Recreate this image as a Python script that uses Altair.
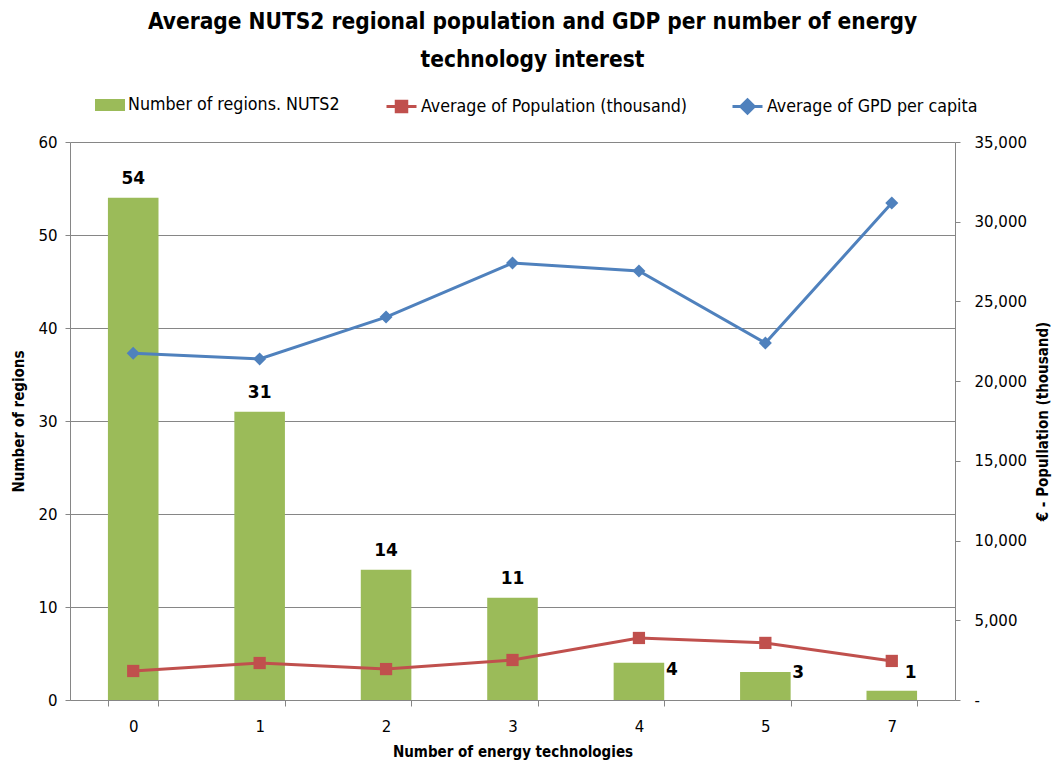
import altair as alt
import pandas as pd

categories = ["0", "1", "2", "3", "4", "5", "7"]
regions = [54, 31, 14, 11, 4, 3, 1]
population = [1820, 2320, 1940, 2510, 3890, 3580, 2450]
gdp = [21750, 21390, 24020, 27410, 26910, 22390, 31170]

series_names = ["Number of regions. NUTS2", "Average of Population (thousand)", "Average of GPD per capita"]
series_colors = ["#9BBB59", "#C0504D", "#4F81BD"]

left_ticks = [0, 10, 20, 30, 40, 50, 60]
right_ticks = [0, 5000, 10000, 15000, 20000, 25000, 30000, 35000]

title_lines = ["Average NUTS2 regional population and GDP per number of energy", "technology interest"]

FONT = "Liberation Sans Narrow, DejaVu Sans Condensed, sans-serif"
TFONT = "DejaVu Sans, sans-serif"
GRAY = "#868686"

bars_df = pd.DataFrame({"cat": categories, "regions": regions, "series": series_names[0]})
pop_df = pd.DataFrame({"cat": categories, "value": population, "series": series_names[1]})
gdp_df = pd.DataFrame({"cat": categories, "value": gdp, "series": series_names[2]})

x_enc = alt.X(
    "cat:O", sort=categories,
    scale=alt.Scale(paddingInner=0.6, paddingOuter=0.3),
    axis=alt.Axis(labelAngle=0, tickBand="extent", title="Number of energy technologies",
                  domainColor=GRAY, tickColor=GRAY, tickSize=6, labelFontSize=15, labelFont=TFONT,
                  labelColor="black", labelPadding=13, titleFontSize=15, titleFont=FONT,
                  titleFontWeight="bold", titlePadding=10, titleColor="black"),
)

y_left = alt.Y(
    "regions:Q", scale=alt.Scale(domain=[0, 60]),
    axis=alt.Axis(values=left_ticks, grid=True, gridColor=GRAY, domainColor=GRAY, tickColor=GRAY,
                  tickSize=5, labelFontSize=15, labelFont=TFONT, labelColor="black", labelPadding=8,
                  title="Number of regions", titleFont=FONT, titleFontSize=15, titleFontWeight="bold",
                  titleColor="black", titlePadding=11),
)

y_right = alt.Y(
    "value:Q", scale=alt.Scale(domain=[0, 35000]),
    axis=alt.Axis(orient="right", values=right_ticks, grid=False, domainColor=GRAY, tickColor=GRAY,
                  tickSize=5, labelFontSize=15, labelFont=TFONT, labelColor="black", labelPadding=14,
                  labelExpr="datum.value == 0 ? '-' : format(datum.value, ',')",
                  title="€ - Popullation (thousand)", titleAngle=270, titleFont=FONT, titleFontSize=15,
                  titleFontWeight="bold", titleColor="black", titlePadding=24),
)

RECT_PATH = "M-1,-0.4H1V0.4H-1Z"
SQUARE_LINE_PATH = "M-1,0H1M-0.35,-0.35H0.35V0.35H-0.35Z"
DIAMOND_LINE_PATH = "M-1,0H1M0,-0.45L0.45,0L0,0.45L-0.45,0Z"

def make_legend(x, path, color, stroke_w):
    return alt.Legend(
        orient="none", legendX=x, legendY=-52, direction="horizontal", title=None,
        symbolType=path, symbolSize=900, symbolStrokeWidth=stroke_w,
        symbolFillColor=color, symbolStrokeColor=color, symbolOpacity=1,
        labelFontSize=17.7, labelFont=FONT, labelColor="black", labelOffset=3, labelLimit=400,
    )

bars = alt.Chart(bars_df).mark_bar().encode(
    x=x_enc, y=y_left,
    color=alt.Color("series:N", scale=alt.Scale(domain=[series_names[0]], range=[series_colors[0]]),
                    legend=make_legend(25, RECT_PATH, series_colors[0], 0)),
)

label_style = dict(fontSize=17, fontWeight="bold", font=TFONT, color="black")

def label_layer(cats, **kw):
    return alt.Chart(bars_df).transform_filter(
        alt.FieldOneOfPredicate(field="cat", oneOf=cats)
    ).mark_text(**kw, **label_style).encode(x=x_enc, y=y_left, text="regions:Q")

labels_top = label_layer(categories[:4], baseline="bottom", dy=-10)
label_4 = label_layer(categories[4:5], baseline="middle", align="left", dx=27, dy=7)
label_5 = label_layer(categories[5:6], baseline="middle", align="left", dx=27, dy=1)
label_7 = label_layer(categories[6:], baseline="middle", align="center", dx=19, dy=-18)

left = alt.layer(bars, labels_top, label_4, label_5, label_7)

pop_line = alt.Chart(pop_df).mark_line(strokeWidth=3).encode(
    x=x_enc, y=y_right,
    stroke=alt.Stroke("series:N", scale=alt.Scale(domain=[series_names[1]], range=[series_colors[1]]),
                      legend=make_legend(315, SQUARE_LINE_PATH, series_colors[1], 3)),
)
pop_pts = alt.Chart(pop_df).mark_point(shape="square", size=150, filled=True, color=series_colors[1], opacity=1).encode(
    x=x_enc, y=y_right)

gdp_line = alt.Chart(gdp_df).mark_line(strokeWidth=3, color=series_colors[2]).encode(
    x=x_enc, y=y_right,
    opacity=alt.Opacity("series:N", scale=alt.Scale(domain=[series_names[2]], range=[1]),
                        legend=make_legend(661, DIAMOND_LINE_PATH, series_colors[2], 3)),
)
gdp_pts = alt.Chart(gdp_df).mark_point(shape="diamond", size=170, filled=True, color=series_colors[2], opacity=1).encode(
    x=x_enc, y=y_right)

right = alt.layer(pop_line, pop_pts, gdp_line, gdp_pts)

chart = alt.layer(left, right).resolve_scale(y="independent").properties(
    width=885, height=558,
    autosize=alt.AutoSizeParams(type="none"),
    padding={"left": 62, "top": 134, "right": 98, "bottom": 60},
    title=alt.TitleParams(text=title_lines, fontSize=22.5, font=FONT, fontWeight="bold", color="black",
                          lineHeight=38, offset=19, anchor="middle", dx=20),
).configure_view(stroke=None)

chart.save("out.html", embed_options={"renderer": "svg", "actions": False})
